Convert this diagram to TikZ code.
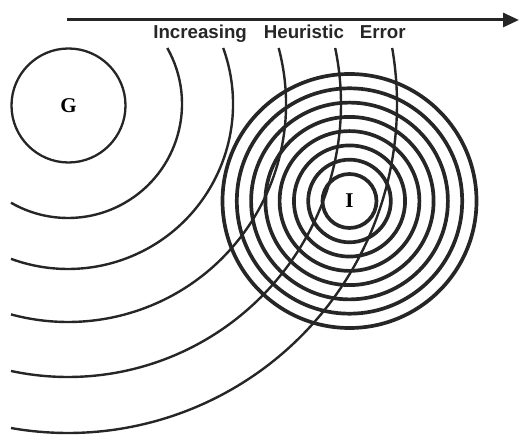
\documentclass[tikz,border=0pt]{standalone}
\usepackage{fontspec}
\setmainfont{Liberation Serif}
\newfontfamily\labelfont{Liberation Sans}
\usetikzlibrary{calc}
\usetikzlibrary{arrows.meta}
\tikzset{
    ringline/.style={
        line width=3.7pt,
        black!85
    },
    errarc/.style={
        line width=2.4pt,
        black!85
    },
    goalcirc/.style={
        circle,
        draw=black!85,
        line width=2.3pt,
        minimum size=114pt,
        inner sep=0pt,
        font=\bfseries\fontsize{21}{21}\selectfont
    },
    errarrow/.style={
        line width=3pt,
        black!85,
        -{Triangle[length=16pt, width=14pt]}
    }
}
\begin{document}
\begin{tikzpicture}[x=1pt, y=1pt]
        \useasboundingbox (0,0) rectangle (519,441);

        \path
        (67,421) coordinate (a1)
        (519,421) coordinate (a2)
        (68,337) coordinate (c)
        (349.5,240) coordinate (i0)
        ;

        \draw[errarrow] (a1) -- (a2);
        \node[anchor=base, text=black!85, font=\labelfont\bfseries\fontsize{18.7}{18.7}\selectfont] (lbl) at (279.5,402) {Increasing\hspace{17pt}Heuristic\hspace{16pt}Error};

        \node[goalcirc] (G) at (68.5,335.5) {G};

        % rings round the start state
        \foreach \r in {27,41.3,55.6,69.9,84.1,98.4,112.7,127}
            \draw[ringline] (i0) circle (\r);
        \node[font=\bfseries\fontsize{21}{21}\selectfont, inner sep=0pt] (I) at (i0) {I};

        % error contours round the goal
        \foreach \r in {114,165,218,273,329}
            \draw[errarc] ($(c)+({asin(56/\r)}:\r)$) arc[start angle={asin(56/\r)}, end angle={acos(57/\r)-180}, radius=\r];
\end{tikzpicture}
\end{document}
